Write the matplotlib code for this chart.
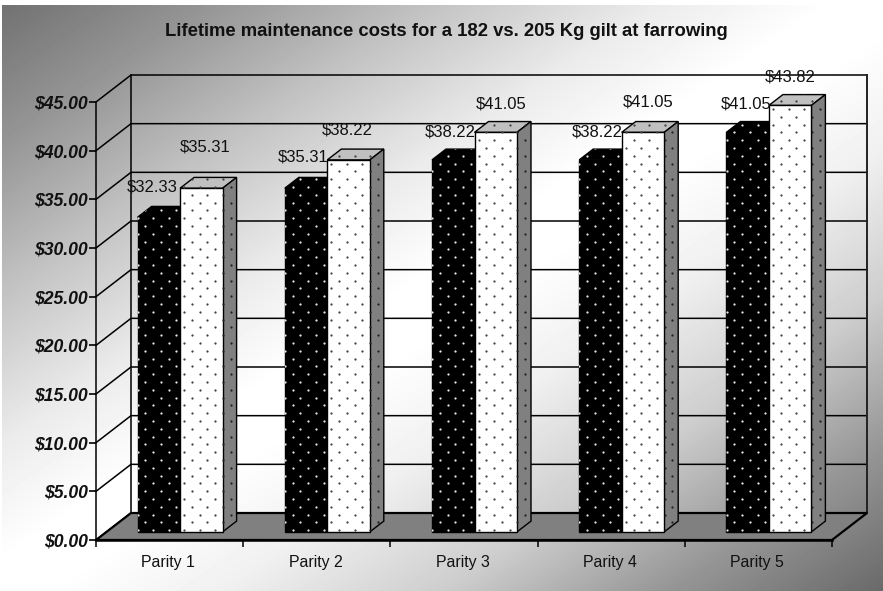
import numpy as np
import matplotlib
matplotlib.use('Agg')
import matplotlib.pyplot as plt
from matplotlib.patches import Polygon

plt.rcParams['font.family'] = ['Liberation Sans', 'DejaVu Sans']

categories = ['Parity 1', 'Parity 2', 'Parity 3', 'Parity 4', 'Parity 5']
gilt_182 = [32.33, 35.31, 38.22, 38.22, 41.05]
gilt_205 = [35.31, 38.22, 41.05, 41.05, 43.82]
y_ticks = [0, 5, 10, 15, 20, 25, 30, 35, 40, 45]

# label nudges in pixels from the front top edge of each bar
nudge_182 = [(-7, 30), (-3, 31), (-3, 28), (-3, 28), (-2, 28)]
nudge_205 = [(4, 41), (-1, 30), (5, 28), (5, 30), (0, 28)]

W, H = 883, 591
fig = plt.figure(figsize=(W / 100, H / 100), dpi=100)

# diagonal background, dark corners top left and bottom right, white along the other diagonal
bg = fig.add_axes([0, 0, 1, 1])
xx, yy = np.meshgrid(np.arange(W) / W, np.arange(H) / H)
shade = np.interp(xx + yy, [0, .25, .5, .75, .95, 1.05, 1.25, 1.5, 1.75, 2],
                  [112, 150, 195, 235, 255, 255, 240, 205, 150, 105])
shade[:5, :] = 255
shade[:, :2] = 255
bg.imshow(shade, cmap='gray', vmin=0, vmax=255, aspect='auto')
bg.axis('off')

ax = fig.add_axes([96 / W, 1 - 540 / H, 736 / W, 438 / H])
ax.set_facecolor('none')
ax.set_xlim(0, 5)
ax.set_ylim(0, 45)

# oblique projection, depth 0 is the front plane and 1 the back wall
DX = 35 / 147.2
DY = 27 / (438 / 45)


def pr(x, y, d):
    return (x + DX * d, y + DY * d)


def face(pts, color, z):
    p = Polygon(pts, closed=True, facecolor=color, edgecolor='black', lw=1.0,
                clip_on=False, zorder=z, joinstyle='miter')
    ax.add_patch(p)
    return p


def dots(p, pts, color, z):
    # staggered dot pattern clipped to the face
    xs = [a[0] for a in pts]
    ys = [a[1] for a in pts]
    sx, sy = 15.5 / 147.2, 7.8 / (438 / 45)
    rows = np.arange(np.floor(min(ys) / sy), np.ceil(max(ys) / sy) + 1)
    px, py = [], []
    for r in rows:
        cols = np.arange(np.floor(min(xs) / sx) - 1, np.ceil(max(xs) / sx) + 1)
        px.extend((cols + 0.5 * (r % 2) + 0.18) * sx)
        py.extend([r * sy + 0.2] * len(cols))
    s = ax.scatter(px, py, s=2.6, c=color, linewidths=0, zorder=z, clip_on=True)
    s.set_clip_path(p)


# walls
for v in y_ticks:
    ax.plot(*zip(pr(0, v, 0), pr(0, v, 1), pr(5, v, 1)), color='black', lw=1.1,
            clip_on=False, zorder=1, solid_joinstyle='miter')
ax.plot(*zip(pr(0, 0, 1), pr(0, 45, 1)), color='black', lw=1.1, clip_on=False, zorder=1)
ax.plot(*zip(pr(5, 0, 1), pr(5, 45, 1)), color='#222222', lw=1.4, clip_on=False, zorder=1)

# floor
floor = Polygon([pr(0, 0, 0), pr(0, 0, 1), pr(5, 0, 1), pr(5, 0, 0)], closed=True,
                facecolor='#808080', edgecolor='black', lw=1.6, clip_on=False, zorder=2)
ax.add_patch(floor)

bar_w = 42.5 / 147.2
d0, d1 = 0.3, 0.7


def bar3d(x, v, front, top, side, dot_front, z):
    pts = [pr(x, 0, d0), pr(x + bar_w, 0, d0), pr(x + bar_w, v, d0), pr(x, v, d0)]
    pts_top = [pr(x, v, d0), pr(x + bar_w, v, d0), pr(x + bar_w, v, d1), pr(x, v, d1)]
    pts_side = [pr(x + bar_w, 0, d0), pr(x + bar_w, 0, d1), pr(x + bar_w, v, d1), pr(x + bar_w, v, d0)]
    for q, col, dc in [(pts_top, top, dot_front if top == 'black' else '#404040'),
                       (pts_side, side, '#202020' if side != 'black' else dot_front),
                       (pts, front, dot_front)]:
        f = face(q, col, z)
        dots(f, q, dc, z + 0.1)


for i in range(len(categories)):
    c = i + 0.5
    x1 = c - bar_w
    x2 = c
    bar3d(x1, gilt_182[i], 'black', 'black', 'black', '#e8e8e8', 3)
    bar3d(x2, gilt_205[i], 'white', '#c0c0c0', '#808080', '#404040', 4)
    for x, v, n in [(x1, gilt_182[i], nudge_182[i]), (x2, gilt_205[i], nudge_205[i])]:
        ax.annotate('$%.2f' % v, pr(x + bar_w / 2, v, d0), xytext=(n[0] * 0.72, n[1] * 0.72),
                    textcoords='offset points', ha='center', va='center',
                    fontsize=12, color='#111111', zorder=6, annotation_clip=False)

for sp in ['top', 'right']:
    ax.spines[sp].set_visible(False)
ax.spines['left'].set_linewidth(1.1)
ax.spines['bottom'].set_linewidth(1.8)
ax.spines['left'].set_zorder(5)
ax.spines['bottom'].set_zorder(5)
ax.set_axisbelow(False)

ax.set_yticks(y_ticks)
ax.set_yticklabels(['$%.2f' % v for v in y_ticks], fontsize=12.7, fontweight='bold',
                   fontstyle='italic', color='#111111')
ax.tick_params(axis='y', length=5, width=1.2, pad=1)
ax.set_xticks(range(6))
ax.set_xticklabels([''] * 6)
ax.tick_params(axis='x', length=5, width=1.1)
for i, name in enumerate(categories):
    ax.annotate(name, (i + 0.5, 0), xytext=(-1, -16), textcoords='offset points',
                ha='center', va='center', fontsize=11.4, color='#111111', annotation_clip=False)

fig.text(446 / W, 1 - 32 / H, 'Lifetime maintenance costs for a 182 vs. 205 Kg gilt at farrowing',
         ha='center', va='center', fontsize=13.3, fontweight='bold', color='#111111')

fig.savefig('out.png', dpi=100)
